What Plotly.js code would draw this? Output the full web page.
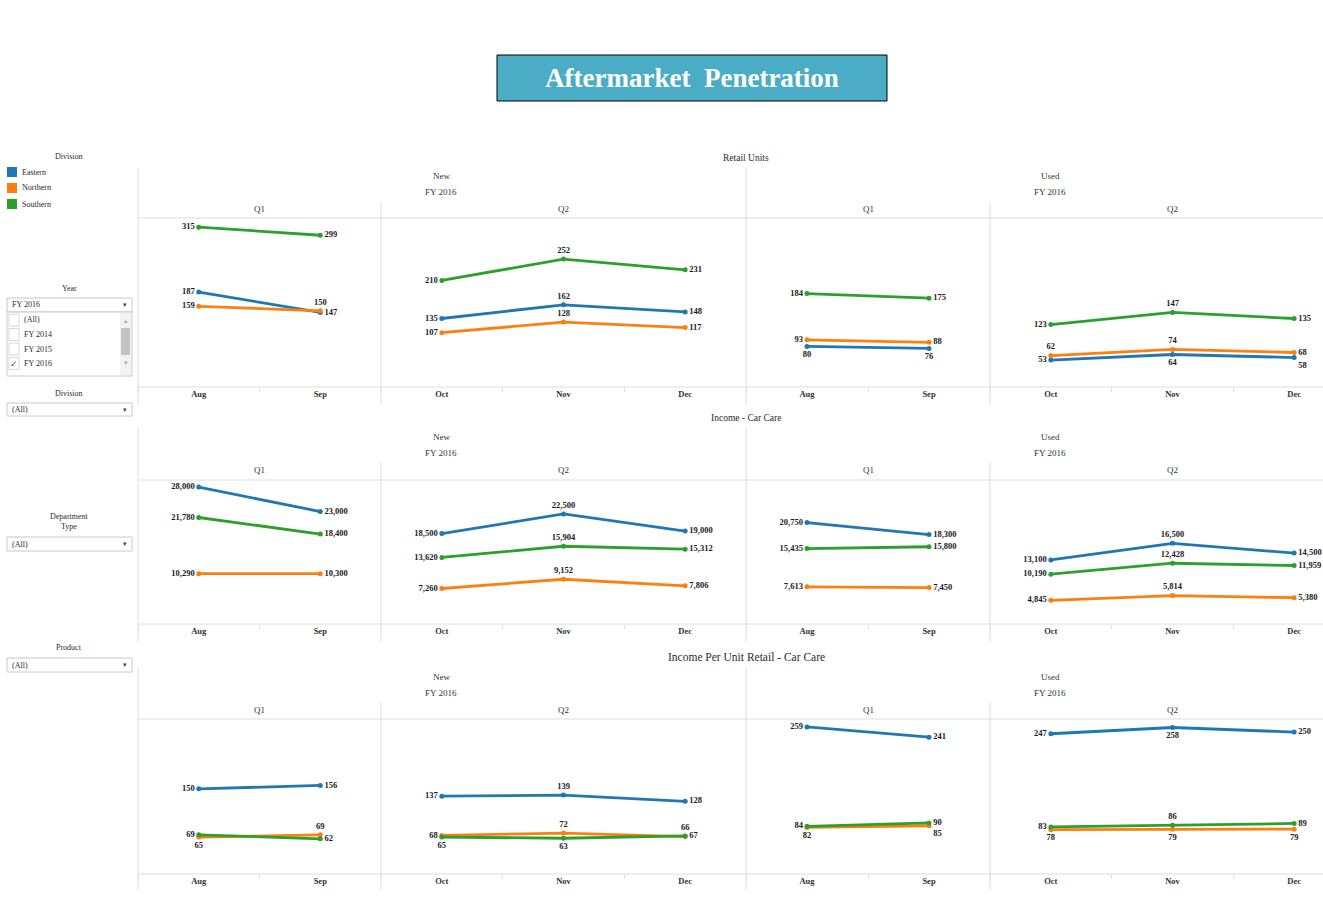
<!DOCTYPE html>
<html><head><meta charset="utf-8">
<script src="https://cdn.plot.ly/plotly-3.0.1.min.js"></script>
<style>html,body{margin:0;padding:0;background:#fff;}#chart{width:1323px;height:915px;}</style>
</head><body><div id="chart"></div>
<script>
// ---------- DATA ----------
const divisions = ["Eastern", "Northern", "Southern"];
const months = ["Aug", "Sep", "Oct", "Nov", "Dec"];
const quarters = ["Q1", "Q2"];
const quarterMonthIdx = [[0, 1], [2, 3, 4]];
const conditions = ["New", "Used"];
const fiscalYear = "FY 2016";
const measures = ["Retail Units", "Income - Car Care", "Income Per Unit Retail - Car Care"];
const yearOptions = ["(All)", "FY 2014", "FY 2015", "FY 2016"];

// values per month Aug..Dec
const retailNewEastern   = [187, 147, 135, 162, 148];
const retailNewNorthern  = [159, 150, 107, 128, 117];
const retailNewSouthern  = [315, 299, 210, 252, 231];
const retailUsedEastern  = [80, 76, 53, 64, 58];
const retailUsedNorthern = [93, 88, 62, 74, 68];
const retailUsedSouthern = [184, 175, 123, 147, 135];

const incomeNewEastern   = [28000, 23000, 18500, 22500, 19000];
const incomeNewNorthern  = [10290, 10300, 7260, 9152, 7806];
const incomeNewSouthern  = [21780, 18400, 13620, 15904, 15312];
const incomeUsedEastern  = [20750, 18300, 13100, 16500, 14500];
const incomeUsedNorthern = [7613, 7450, 4845, 5814, 5380];
const incomeUsedSouthern = [15435, 15800, 10190, 12428, 11959];

const perUnitNewEastern   = [150, 156, 137, 139, 128];
const perUnitNewNorthern  = [65, 69, 68, 72, 66];
const perUnitNewSouthern  = [69, 62, 65, 63, 67];
const perUnitUsedEastern  = [259, 241, 247, 258, 250];
const perUnitUsedNorthern = [82, 85, 78, 79, 79];
const perUnitUsedSouthern = [84, 90, 83, 86, 89];

const seriesByRow = [
  { New: [retailNewEastern, retailNewNorthern, retailNewSouthern],
    Used: [retailUsedEastern, retailUsedNorthern, retailUsedSouthern] },
  { New: [incomeNewEastern, incomeNewNorthern, incomeNewSouthern],
    Used: [incomeUsedEastern, incomeUsedNorthern, incomeUsedSouthern] },
  { New: [perUnitNewEastern, perUnitNewNorthern, perUnitNewSouthern],
    Used: [perUnitUsedEastern, perUnitUsedNorthern, perUnitUsedSouthern] }
];

// ---------- STYLE / LAYOUT ----------
const colors = ["#1f77b4", "#ff7f0e", "#2ca02c"];
const W = 1323, H = 915;
const FONT = "Liberation Serif, Times New Roman, serif";
const LINE = "#dedede";
const px = x => x / W, py = y => 1 - y / H;

const paneCols = [
  { x0: 138, x1: 381, range: [-0.5, 1.5] },
  { x0: 381, x1: 746, range: [-0.5, 2.5] },
  { x0: 746, x1: 990, range: [-0.5, 1.5] },
  { x0: 990, x1: 1323, range: [-0.5, -0.5 + 333 / 121.67] }
];
const rows = [
  { top: 218, bottom: 387, ymax: 333,   headTop: 168, qTop: 202, end: 405, labelY: 158, condY: 176, fyY: 192, qY: 209, tsize: 9.5 },
  { top: 480, bottom: 624, ymax: 29450, headTop: 428, qTop: 462, end: 642, labelY: 418, condY: 437, fyY: 453, qY: 470, tsize: 9.5 },
  { top: 719, bottom: 874, ymax: 273,   headTop: 668, qTop: 702, end: 890, labelY: 657, condY: 677, fyY: 693, qY: 710, tsize: 11.5 }
];

// label position overrides: row|condition|division -> per-month position (null = default)
const posOverrides = {
  "0|New|Northern":  [null, "top center", null, null, null],
  "0|Used|Eastern":  ["bottom center", "bottom center", null, "bottom center", "bottom right"],
  "0|Used|Northern": [null, null, "top center", null, null],
  "2|New|Northern":  ["bottom center", "top center", null, null, "top center"],
  "2|New|Southern":  [null, null, "bottom center", "bottom center", null],
  "2|Used|Eastern":  [null, null, null, "bottom center", null],
  "2|Used|Northern": ["bottom center", "bottom right", "bottom center", "bottom center", "bottom center"],
  "2|Used|Southern": [null, null, null, "top center", null]
};

const traces = [];
const layout = {
  width: W, height: H, margin: { l: 0, r: 0, t: 0, b: 0 },
  paper_bgcolor: "#fff", plot_bgcolor: "rgba(0,0,0,0)",
  showlegend: false, font: { family: FONT, color: "#333" },
  shapes: [], annotations: []
};

function ann(text, x, y, o = {}) {
  layout.annotations.push(Object.assign({
    text, x: px(x), y: py(y), xref: "paper", yref: "paper", showarrow: false,
    xanchor: "center", yanchor: "middle",
    font: { family: FONT, size: 9, color: "#333" }
  }, o));
}
function line(x0, y0, x1, y1, color = LINE, width = 1) {
  layout.shapes.push({ type: "line", xref: "paper", yref: "paper",
    x0: px(x0), y0: py(y0), x1: px(x1), y1: py(y1), line: { color, width } });
}
function rect(x0, y0, x1, y1, fill, stroke, width = 1) {
  layout.shapes.push({ type: "rect", xref: "paper", yref: "paper",
    x0: px(x0), y0: py(y0), x1: px(x1), y1: py(y1),
    fillcolor: fill, line: { color: stroke, width } });
}

rows.forEach((row, r) => {
  const yName = r === 0 ? "yaxis" : "yaxis" + (r + 1);
  const yRef = r === 0 ? "y" : "y" + (r + 1);
  layout[yName] = {
    domain: [py(row.bottom), py(row.top)], range: [0, row.ymax],
    showgrid: false, zeroline: false, showline: false, showticklabels: false,
    ticks: "", fixedrange: true, anchor: "x" + (r * 4 + 1)
  };
  paneCols.forEach((pc, k) => {
    const cond = conditions[Math.floor(k / 2)];
    const q = k % 2;
    const idx = r * 4 + k + 1;
    const xName = idx === 1 ? "xaxis" : "xaxis" + idx;
    const xRef = idx === 1 ? "x" : "x" + idx;
    const mIdx = quarterMonthIdx[q];
    const cats = mIdx.map(i => months[i]);
    layout[xName] = {
      domain: [px(pc.x0), px(pc.x1)], anchor: yRef, type: "category",
      categoryorder: "array", categoryarray: cats, range: pc.range,
      showgrid: false, zeroline: false, showline: false,
      ticks: "outside", tickson: "boundaries", ticklen: 4, tickcolor: LINE,
      tickfont: { family: FONT, size: 8.5, color: "#333", weight: "bold" },
      fixedrange: true
    };
    divisions.forEach((d, di) => {
      const vals = seriesByRow[r][cond][di];
      const ov = posOverrides[r + "|" + cond + "|" + d] || [];
      const pos = mIdx.map((mi, j) => ov[mi] ||
        (j === 0 ? "middle left" : j === mIdx.length - 1 ? "middle right" : "top center"));
      traces.push({
        type: "scatter", mode: "lines+markers+text", name: d,
        x: cats, y: mIdx.map(i => vals[i]),
        xaxis: xRef, yaxis: yRef,
        line: { color: colors[di], width: 2.8 },
        marker: { color: colors[di], size: 5 },
        texttemplate: "%{y:,}", textposition: pos,
        textfont: { family: FONT, size: 8.5, color: "#1a1a1a", weight: "bold" },
        cliponaxis: false, hoverinfo: "x+y+name"
      });
    });
    // quarter header
    ann(quarters[q], (pc.x0 + (k === 3 ? 1354 : pc.x1)) / 2, row.qY);
  });
  // condition headers
  ann(conditions[0], 441, row.condY); ann(fiscalYear, 441, row.fyY);
  ann(conditions[1], 1050, row.condY); ann(fiscalYear, 1050, row.fyY);
  ann(measures[r], 746, row.labelY, { font: { family: FONT, size: row.tsize, color: "#2a2a2a" } });
  // frame lines
  line(138, row.top, 1323, row.top);
  line(138, row.bottom, 1323, row.bottom);
  line(138, row.headTop, 138, row.end);
  line(746, row.headTop, 746, row.end);
  line(381, row.qTop, 381, row.end);
  line(990, row.qTop, 990, row.end);
});

// ---------- Title ----------
rect(497, 55, 887, 101, "#4bacc6", "#000", 1);
ann("Aftermarket\u00a0 Penetration", 692, 78,
  { font: { family: FONT, size: 27, color: "#fff", weight: "bold" } });

// ---------- Left panel ----------
const sideFont = { family: FONT, size: 8, color: "#2a2a2a" };
ann("Division", 69, 156, { font: sideFont });
divisions.forEach((d, i) => {
  const yc = 172 + i * 16;
  rect(7, yc - 5, 17, yc + 5, colors[i], colors[i], 0);
  ann(d, 20, yc, { xanchor: "left", font: sideFont });
});

ann("Year", 69, 288, { font: sideFont });
rect(7, 298, 132, 312, "#fff", "#c8c8c8");
ann(fiscalYear, 10, 305, { xanchor: "left", font: sideFont });
ann("\u25BE", 125, 305, { font: { family: "DejaVu Sans", size: 7, color: "#444" } });
rect(7, 312, 132, 376, "#fff", "#c8c8c8");
yearOptions.forEach((t, i) => {
  const yc = 320 + i * 14.5;
  rect(9, yc - 6, 19, yc + 6, "#fff", "#d8d8d8");
  ann(t, 22, yc, { xanchor: "left", font: sideFont });
  if (t === fiscalYear) ann("\u2713", 14, yc, { font: { family: "DejaVu Sans", size: 9, color: "#555" } });
});
rect(120, 313, 131, 375, "#f2f2f2", "#f2f2f2", 0);
rect(121, 328, 130, 355, "#c3c3c3", "#c3c3c3", 0);
ann("\u25B4", 125.5, 321, { font: { family: "DejaVu Sans", size: 7, color: "#aaa" } });
ann("\u25BE", 125.5, 363, { font: { family: "DejaVu Sans", size: 7, color: "#aaa" } });

function dropdown(label, labelY, boxY0, boxY1) {
  ann(label, 69, labelY, { font: sideFont });
  rect(7, boxY0, 132, boxY1, "#fff", "#c8c8c8");
  ann("(All)", 10, (boxY0 + boxY1) / 2, { xanchor: "left", font: sideFont });
  ann("\u25BE", 125, (boxY0 + boxY1) / 2, { font: { family: "DejaVu Sans", size: 7, color: "#444" } });
}
dropdown("Division", 393, 403, 416);
dropdown("Department<br>Type", 521, 537, 551);
dropdown("Product", 647, 658, 672);

Plotly.newPlot("chart", traces, layout, { displayModeBar: false, staticPlot: false });
</script>
</body></html>
